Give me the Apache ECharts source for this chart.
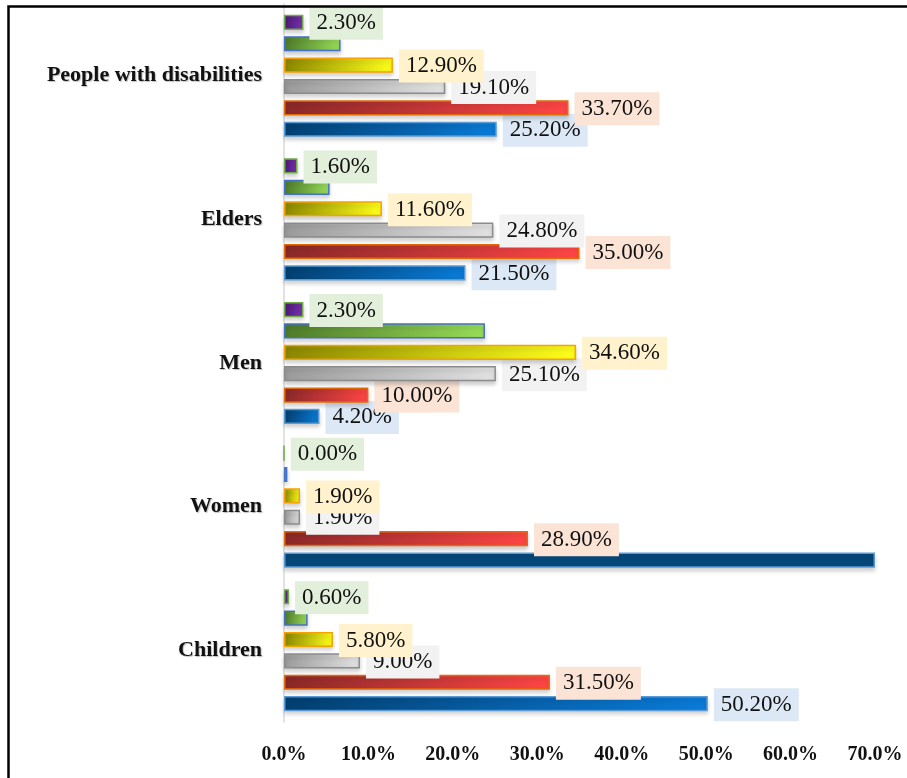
<!DOCTYPE html>
<html>
<head>
<meta charset="utf-8">
<script src="https://cdn.jsdelivr.net/npm/echarts@6/dist/echarts.min.js"></script>
<style>
html,body{margin:0;padding:0;background:#fff;}
#chart{width:907px;height:778px;}
</style>
</head>
<body>
<div id="chart"></div>
<script>
// Categories (bottom to top)
var categories = ['Children', 'Women', 'Men', 'Elders', 'People with disabilities'];
// Series values (percent), one array per coloured series
var blueValues   = [50.2, 70.0, 4.2, 21.5, 25.2];
var redValues    = [31.5, 28.9, 10.0, 35.0, 33.7];
var grayValues   = [9.0, 1.9, 25.1, 24.8, 19.1];
var yellowValues = [5.8, 1.9, 34.6, 11.6, 12.9];
var greenValues  = [2.8, 0.4, 23.8, 5.4, 6.7];
var purpleValues = [0.6, 0.0, 2.3, 1.6, 2.3];
// Axis ticks
var xTicks = [0, 10, 20, 30, 40, 50, 60, 70];

var serif = '"Liberation Serif", "Times New Roman", serif';

function grad(c1, c2) {
  return new echarts.graphic.LinearGradient(0, 0, 1, 0, [
    {offset: 0, color: c1}, {offset: 1, color: c2}
  ]);
}

function makeSeries(name, values, c1, c2, border, labelBg, showLabel, zOrder, hideIdx) {
  return {
    name: name,
    type: 'bar',
    z: zOrder,
    barGap: '41%',
    barCategoryGap: '15%',
    data: values.map(function (v, i) {
      var item = {value: v};
      if (hideIdx !== undefined && i === hideIdx) {
        item.label = {show: false};
        item.itemStyle = {color: '#06477a'};
      }
      return item;
    }),
    itemStyle: {
      color: grad(c1, c2),
      borderColor: border,
      borderWidth: 1.5,
      shadowColor: 'rgba(0,0,0,0.18)',
      shadowBlur: 4,
      shadowOffsetY: 3
    },
    label: {
      show: showLabel,
      position: 'right',
      distance: 6,
      offset: [0, 1],
      formatter: function (p) { return p.value.toFixed(2) + '%'; },
      fontFamily: serif,
      fontSize: 23,
      color: '#111',
      backgroundColor: labelBg,
      padding: [6, 7, 4, 7]
    }
  };
}

var chart = echarts.init(document.getElementById('chart'), null, {renderer: 'canvas'});
chart.setOption({
  backgroundColor: '#ffffff',
  animation: false,
  grid: {left: 284, right: 32, top: 4, bottom: 56, containLabel: false},
  xAxis: {
    type: 'value',
    min: xTicks[0],
    max: xTicks[xTicks.length - 1],
    interval: 10,
    axisLine: {show: false},
    axisTick: {show: false},
    splitLine: {show: false},
    axisLabel: {
      margin: 23,
      fontFamily: serif,
      fontWeight: 'bold',
      fontSize: 20,
      color: '#111',
      formatter: function (v) { return v.toFixed(1) + '%'; }
    }
  },
  yAxis: {
    type: 'category',
    data: categories,
    axisLine: {show: true, lineStyle: {color: '#d9d9d9', width: 1.5}},
    axisTick: {show: false},
    axisLabel: {
      margin: 22,
      fontFamily: serif,
      fontWeight: 'bold',
      fontSize: 22,
      color: '#111',
      textShadowColor: 'rgba(0,0,0,0.25)',
      textShadowBlur: 1,
      textShadowOffsetX: 1,
      textShadowOffsetY: 1
    }
  },
  // ECharts places the first series at the top of each band, so the top bar (purple) comes first
  series: [
    makeSeries('Series 6', purpleValues, '#4a1878', '#7a32b0', '#70ad47', '#e2efda', true, 7),
    makeSeries('Series 5', greenValues,  '#4d7a2a', '#98dc58', '#4472c4', '#e2efda', false, 6),
    makeSeries('Series 4', yellowValues, '#8a8600', '#ffff1a', '#f5a300', '#fff2cc', true, 5),
    makeSeries('Series 3', grayValues,   '#9a9a9a', '#e2e2e2', '#8c8c8c', '#f2f2f2', true, 4),
    makeSeries('Series 2', redValues,    '#8a2828', '#ff4545', '#e36c0a', '#fbe4d6', true, 3),
    makeSeries('Series 1', blueValues,   '#033f70', '#0a7bd8', '#5b9bd5', '#dce8f5', true, 2, 1)
  ],
  graphic: [{
    type: 'rect',
    left: 6, top: 4,
    shape: {x: 0, y: 0, width: 940, height: 820},
    style: {fill: 'none', stroke: '#000', lineWidth: 2.5},
    silent: true,
    z: 100
  }]
});
</script>
</body>
</html>
